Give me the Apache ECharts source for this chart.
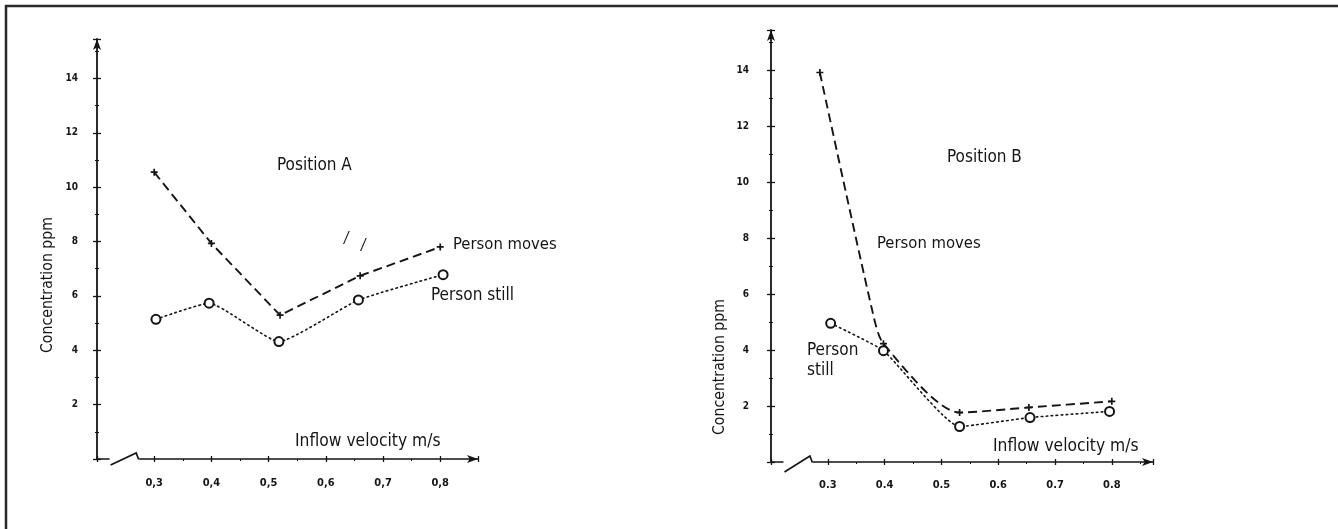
<!DOCTYPE html>
<html>
<head>
<meta charset="utf-8">
<script src="https://cdn.jsdelivr.net/npm/echarts@6/dist/echarts.min.js"></script>
<style>
html,body{margin:0;padding:0;background:#fff;}
#c{width:1338px;height:529px;}
</style>
</head>
<body>
<div id="c"></div>
<script>
// ---- data ----
const yTicks = [2, 4, 6, 8, 10, 12, 14];
const xTicks = [0.3, 0.4, 0.5, 0.6, 0.7, 0.8];

// Position A
const xA_moves = [0.30, 0.40, 0.52, 0.66, 0.80];
const yA_moves = [10.55, 7.93, 5.29, 6.74, 7.80];
const xA_still = [0.303, 0.396, 0.518, 0.657, 0.805];
const yA_still = [5.14, 5.73, 4.32, 5.85, 6.78];

// Position B
const xB_moves = [0.286, 0.378, 0.398, 0.532, 0.654, 0.80];
const yB_moves = [13.93, 5.44, 4.23, 1.77, 1.95, 2.17];
const symB_moves = [true, false, true, true, true, true];
const xB_still = [0.305, 0.398, 0.532, 0.656, 0.796];
const yB_still = [4.96, 3.98, 1.27, 1.59, 1.81];

const labelsA = { title: 'Position A', moves: 'Person moves', still: 'Person still' };
const labelsB = { title: 'Position B', moves: 'Person moves', still: 'Person\nstill' };
const xName = 'Inflow velocity m/s';
const yName = 'Concentration ppm';

// ---- chart ----
const INK = '#151515';
const FONT = '"DejaVu Sans Condensed", "DejaVu Sans", sans-serif';
const plusSym = 'path://M0,5L10,5M5,0L5,10';

const chart = echarts.init(document.getElementById('c'), null, { renderer: 'canvas', width: 1338, height: 529 });

function pairs(xs, ys) { return xs.map((x, i) => [x, ys[i]]); }

function xAxisMain(grid, max, comma, margin) {
  return {
    type: 'value', gridIndex: grid, position: 'bottom', offset: 0, min: 0.2, max: max, interval: 0.1,
    splitLine: { show: false },
    axisLine: { show: true, onZero: false, lineStyle: { color: INK, width: 1.6 }, symbol: ['none', 'arrow'], symbolSize: [6, 11] },
    axisTick: { show: true, length: 3, lineStyle: { color: INK, width: 1.3 } },
    minorTick: { show: true, splitNumber: 2, length: 2, lineStyle: { color: INK, width: 1 } },
    axisLabel: {
      show: true, margin: margin, color: INK, fontFamily: FONT, fontSize: 11, fontWeight: 'bold',
      formatter: v => {
        const r = Math.round(v * 10) / 10;
        if (!xTicks.some(t => Math.abs(t - r) < 1e-6)) return '';
        const s = r.toFixed(1);
        return comma ? s.replace('.', ',') : s;
      }
    }
  };
}
function xAxisOver(grid, max) {
  return {
    type: 'value', gridIndex: grid, position: 'bottom', offset: 0, min: 0.2, max: max, interval: 0.1,
    splitLine: { show: false },
    axisLine: { show: false, onZero: false },
    axisTick: { show: true, inside: true, length: 3, lineStyle: { color: INK, width: 1.3 } },
    minorTick: { show: false },
    axisLabel: { show: false }
  };
}
function yAxisMain(grid, margin) {
  return {
    type: 'value', gridIndex: grid, position: 'left', offset: 0, min: 0, max: 15.45, interval: 2,
    splitLine: { show: false },
    axisLine: { show: true, onZero: false, lineStyle: { color: INK, width: 1.8 }, symbol: ['none', 'arrow'], symbolSize: [6, 11] },
    axisTick: { show: true, length: 4, lineStyle: { color: INK, width: 1.3 } },
    minorTick: { show: true, splitNumber: 2, length: 2, lineStyle: { color: INK, width: 1 } },
    axisLabel: {
      show: true, margin: margin, color: INK, fontFamily: FONT, fontSize: 10, fontWeight: 'bold',
      formatter: v => (yTicks.indexOf(Math.round(v)) >= 0 && Math.abs(v - Math.round(v)) < 1e-6) ? String(Math.round(v)) : ''
    }
  };
}
function yAxisOver(grid) {
  return {
    type: 'value', gridIndex: grid, position: 'left', offset: 0, min: 0, max: 15.45, interval: 2,
    splitLine: { show: false },
    axisLine: { show: false, onZero: false },
    axisTick: { show: true, inside: true, length: 4, lineStyle: { color: INK, width: 1.3 } },
    minorTick: { show: true, splitNumber: 2, length: 2, lineStyle: { color: INK, width: 1 } },
    axisLabel: { show: false }
  };
}

function movesSeries(xi, yi, data, smooth) {
  return {
    type: 'line', xAxisIndex: xi, yAxisIndex: yi, data: data, smooth: smooth,
    symbol: plusSym, symbolSize: 7, showSymbol: true,
    itemStyle: { color: INK, borderColor: INK, borderWidth: 1.7 },
    lineStyle: { color: INK, width: 1.9, type: [9, 5] },
    silent: true, animation: false, z: 3
  };
}
function stillSeries(xi, yi, data, smooth) {
  return {
    type: 'line', xAxisIndex: xi, yAxisIndex: yi, data: data, smooth: smooth,
    symbol: 'emptyCircle', symbolSize: 9, showSymbol: true,
    itemStyle: { color: INK, borderColor: INK, borderWidth: 1.5 },
    lineStyle: { color: INK, width: 1.6, type: [1.6, 3.4], cap: 'round' },
    silent: true, animation: false, z: 3
  };
}

const dataB_moves = xB_moves.map((x, i) => ({ value: [x, yB_moves[i]], symbol: symB_moves[i] ? plusSym : 'none' }));

function txt(x, y, text, size, opts) {
  return Object.assign({
    type: 'text', x: x, y: y, silent: true,
    style: { text: text, fill: INK, font: size + 'px ' + FONT, align: 'left', verticalAlign: 'middle', lineHeight: 20 }
  }, opts || {});
}
function vtxt(x, y, text, size) {
  return { type: 'text', x: x, y: y, rotation: Math.PI / 2, silent: true,
    style: { text: text, fill: INK, font: size + 'px ' + FONT, align: 'center', verticalAlign: 'middle' } };
}

const yAxes = [yAxisMain(0, 19), yAxisOver(0), yAxisMain(1, 22), yAxisOver(1)];

chart.setOption({
  animation: false,
  backgroundColor: '#fff',
  grid: [
    { left: 97, top: 39, width: 381, height: 420 },
    { left: 771, top: 30, width: 382, height: 432 }
  ],
  xAxis: [
    xAxisMain(0, 0.866, true, 19), xAxisOver(0, 0.866),
    xAxisMain(1, 0.8725, false, 18), xAxisOver(1, 0.8725)
  ],
  yAxis: yAxes,
  series: [
    movesSeries(0, 0, pairs(xA_moves, yA_moves), false),
    stillSeries(0, 0, pairs(xA_still, yA_still), 0.15),
    movesSeries(2, 2, dataB_moves, 0.25),
    stillSeries(2, 2, pairs(xB_still, yB_still), 0.15)
  ]
});

function px(grid, x, y) { return chart.convertToPixel({ xAxisIndex: grid * 2, yAxisIndex: grid * 2 }, [x, y]); }

const g = [];
// frame (top and left edges)
g.push({ type: 'line', silent: true, shape: { x1: 5, y1: 6, x2: 1338, y2: 6 }, style: { stroke: '#2a2a2a', lineWidth: 2.5 } });
g.push({ type: 'line', silent: true, shape: { x1: 6, y1: 5, x2: 6, y2: 529 }, style: { stroke: '#2a2a2a', lineWidth: 2.5 } });

// axis breaks
function axisBreak(grid, below) {
  const c = px(grid, 0.2, 0);
  const a = px(grid, 0.222, 0);
  const b = px(grid, 0.272, 0);
  g.push({ type: 'rect', silent: true, z: 50, shape: { x: a[0], y: c[1] - 3, width: b[0] - a[0] + 1, height: 6 }, style: { fill: '#fff' } });
  g.push({ type: 'polyline', silent: true, z: 51,
    shape: { points: [[a[0] + 1, c[1] + below], [b[0] - 2, c[1] - 6], [b[0] + 0.5, c[1] + 0.5]] },
    style: { stroke: INK, lineWidth: 1.7, fill: null } });
}
axisBreak(0, 6);
axisBreak(1, 10);

// left chart text
g.push(txt(277, 166, labelsA.title, 17));
g.push(txt(453, 245, labelsA.moves, 16.5));
g.push(txt(431, 296, labelsA.still, 17));
g.push(txt(295, 442, xName, 17.3));
g.push(vtxt(48, 285, yName, 15.7));
g.push(txt(344, 239, '/', 15, { style: { text: '/', fill: INK, font: 'italic 15px ' + FONT, align: 'left', verticalAlign: 'middle' } }));
g.push(txt(361, 246, '/', 15, { style: { text: '/', fill: INK, font: 'italic 15px ' + FONT, align: 'left', verticalAlign: 'middle' } }));

// right chart text
g.push(txt(947, 158, labelsB.title, 17));
g.push(txt(877, 244, labelsB.moves, 16.5));
g.push(txt(807, 361, labelsB.still, 17));
g.push(txt(993, 447, xName, 17.3));
g.push(vtxt(720, 367, yName, 15.7));

chart.setOption({ graphic: g });
</script>
</body>
</html>
